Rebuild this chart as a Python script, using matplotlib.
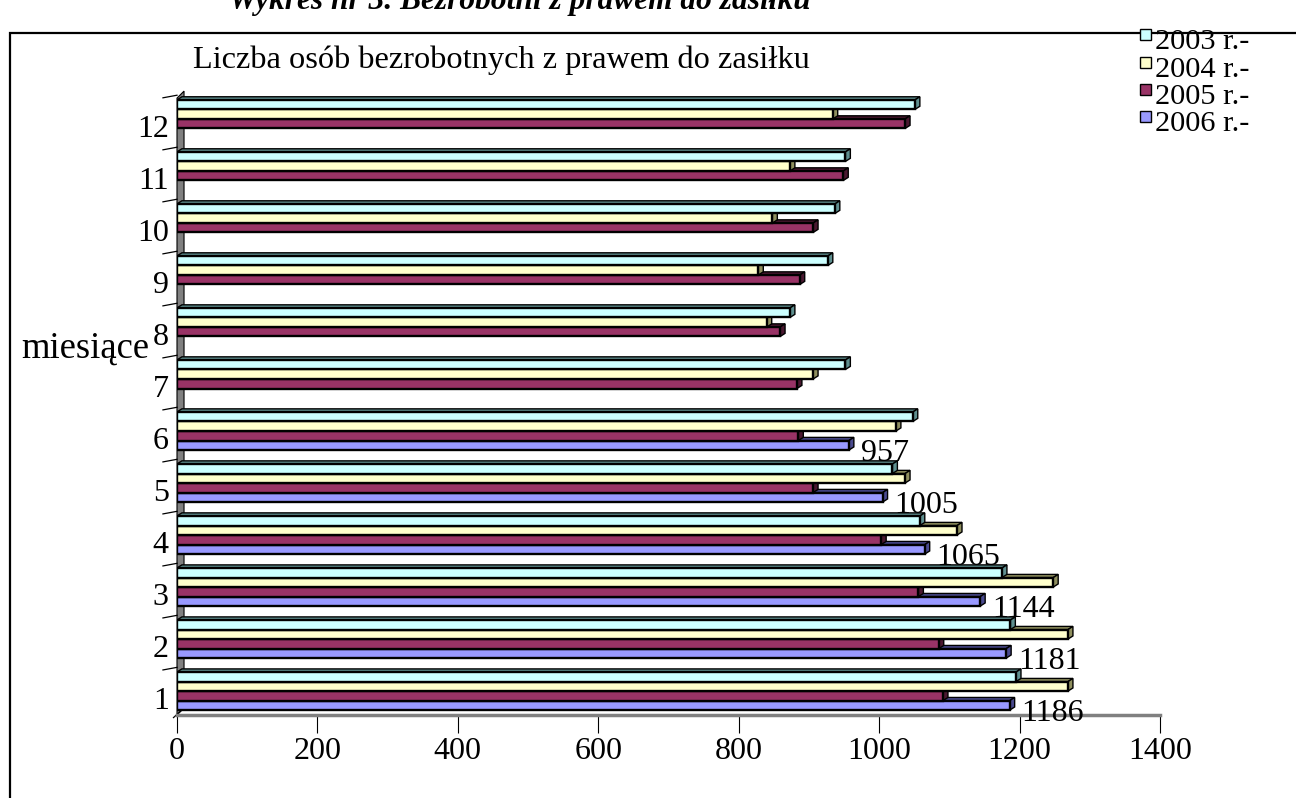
import numpy as np
import matplotlib
matplotlib.use('Agg')
import matplotlib.pyplot as plt
from matplotlib.patches import Polygon, Rectangle
from matplotlib.lines import Line2D

# ---------------- data ----------------
months = list(range(1, 13))
month_labels = [str(m) for m in months]
series_names = ['2003 r.-', '2004 r.-', '2005 r.-', '2006 r.-']
v2003 = [1195, 1187, 1175, 1058, 1019, 1048, 952, 873, 927, 937, 952, 1051]
v2004 = [1269, 1269, 1248, 1111, 1037, 1024, 906, 840, 828, 848, 873, 934]
v2005 = [1091, 1085, 1056, 1003, 906, 885, 883, 859, 887, 906, 949, 1037]
v2006 = [1186, 1181, 1144, 1065, 1005, 957, None, None, None, None, None, None]
xticks = [0, 200, 400, 600, 800, 1000, 1200, 1400]

main_title = 'Wykres nr 3. Bezrobotni z prawem do zasiłku'
chart_title = 'Liczba osób bezrobotnych z prawem do zasiłku'
ylabel = 'miesiące'

colors = ['#CCFFFF', '#FFFFCC', '#993366', '#9999FF']
side_colors = ['#5E8F8F', '#8F8F5E', '#4A1830', '#4A4A8F']

plt.rcParams['font.family'] = ['Liberation Serif', 'DejaVu Serif']

W, H = 1296, 798
fig = plt.figure(figsize=(W / 100, H / 100), dpi=100)


def fx(x):
    return x / W


def fy(y):
    return 1 - y / H


# outer frame (right/bottom run off the canvas)
fig.add_artist(Rectangle((fx(10), fy(830)), fx(1320) - fx(10), fy(33) - fy(830),
                         transform=fig.transFigure, fill=False, edgecolor='black',
                         linewidth=1.6, clip_on=False))

ax = fig.add_axes([fx(177), fy(715), 983 / W, 620 / H])
ax.set_xlim(0, 1400)
ax.set_ylim(0.54, 12.46)
ax.patch.set_visible(False)

h = 0.183
offsets = [1.5 * h, 0.5 * h, -0.5 * h, -1.5 * h]
all_series = [v2003, v2004, v2005, v2006]
dx, dy = 7.0, 0.06

# draw bottom series first so upper bars cover the top faces of lower ones
for si in [3, 2, 1, 0]:
    vals = all_series[si]
    ys = [m + offsets[si] for m, v in zip(months, vals) if v is not None]
    ws = [v for v in vals if v is not None]
    z = 3 + (3 - si) * 2
    bars = ax.barh(ys, ws, height=h, color=colors[si], edgecolor='black',
                   linewidth=1.7, zorder=z + 1)
    for r in bars.patches:
        x0, y0 = r.get_x(), r.get_y()
        w, hh = r.get_width(), r.get_height()
        x1, yb, yt = x0 + w, y0, y0 + hh
        top = Polygon([(x0, yt), (x0 + dx, yt + dy), (x1 + dx, yt + dy), (x1, yt)],
                      closed=True, facecolor=side_colors[si], edgecolor='black',
                      linewidth=1.0, zorder=z)
        side = Polygon([(x1, yt), (x1 + dx, yt + dy), (x1 + dx, yb + dy), (x1, yb)],
                       closed=True, facecolor=side_colors[si], edgecolor='black',
                       linewidth=1.0, zorder=z)
        ax.add_patch(top)
        ax.add_patch(side)
    if si == 3:
        for yv, v in zip(ys, ws):
            ax.text(v + 17, yv - 0.16, f'{v}', ha='left', va='center',
                    fontsize=23, zorder=20, clip_on=False)

# 3D side wall
ylo, yhi = 0.54, 12.40
wall = Polygon([(0, ylo), (0, yhi), (10, yhi + 0.135), (10, ylo + 0.135)],
               closed=True, facecolor='#808080', edgecolor='black', linewidth=0.8,
               zorder=1, clip_on=False)
ax.add_patch(wall)
for m in months:
    yb = m + 2 * h + 0.06
    ax.add_line(Line2D([-20, 0], [yb - 0.02, yb + 0.03], color='black',
                       linewidth=0.9, clip_on=False, zorder=2))
ax.add_line(Line2D([-5, 10], [ylo - 0.05, ylo + 0.135], color='black',
                   linewidth=0.9, clip_on=False, zorder=2))

# axes styling
for s in ['top', 'right', 'left']:
    ax.spines[s].set_visible(False)
ax.spines['bottom'].set_color('#808080')
ax.spines['bottom'].set_linewidth(2.5)
ax.spines['bottom'].set_bounds(0, 1400)
ax.set_xticks(xticks)
ax.set_xticklabels([str(t) for t in xticks])
ax.tick_params(axis='x', length=13, width=0.8, color='black', pad=3, labelsize=23)
ax.set_yticks([m - 0.13 for m in months])
ax.set_yticklabels(month_labels)
ax.tick_params(axis='y', length=0, pad=6, labelsize=23)

# texts
t_main = fig.text(fx(520), fy(9), main_title, ha='center', va='baseline',
                  fontsize=20, fontweight='bold', fontstyle='italic')
t_chart = fig.text(fx(193), fy(60), chart_title, ha='left', va='center', fontsize=21)
t_ylab = fig.text(fx(85), fy(348), ylabel, ha='center', va='center', fontsize=22)

# legend (manual, Excel-like)
leg_rows = [42, 70, 97, 124]
leg_texts = []
for i, (name, c) in enumerate(zip(series_names, colors)):
    yc = leg_rows[i]
    fig.add_artist(Rectangle((fx(1140), fy(yc - 2)), 11 / W, 11 / H,
                             transform=fig.transFigure, facecolor=c,
                             edgecolor='black', linewidth=1.0))
    leg_texts.append(fig.text(fx(1155), fy(yc), name, ha='left', va='center',
                              fontsize=22))

# fit text widths to the reference layout
fig.canvas.draw()
rend = fig.canvas.get_renderer()


def fit(t, target):
    bb = t.get_window_extent(rend)
    t.set_fontsize(t.get_fontsize() * target / bb.width)


fit(t_main, 580)
fit(t_chart, 615)
fit(t_ylab, 128)
for t in leg_texts:
    fit(t, 94)

fig.savefig('out.png', dpi=100)
